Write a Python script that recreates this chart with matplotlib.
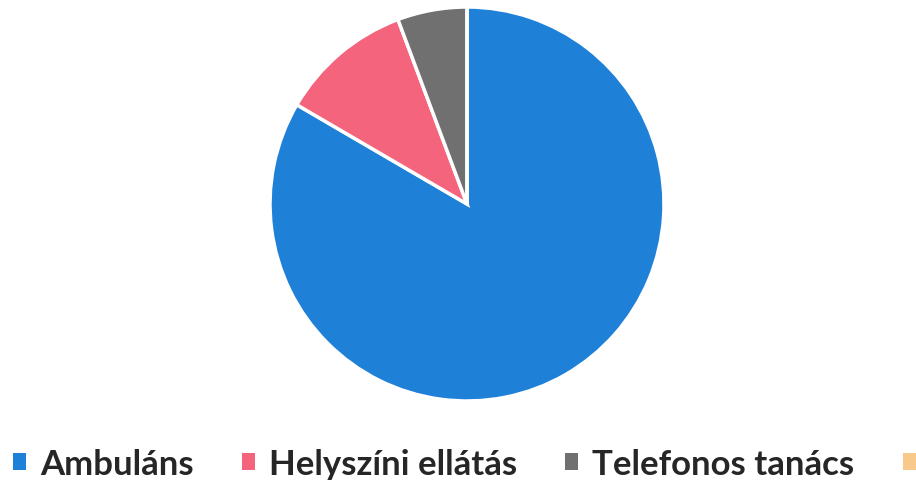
import matplotlib.pyplot as plt
from matplotlib.patches import Patch

labels = ['Ambuláns', 'Helyszíni ellátás', 'Telefonos tanács', '']
values = [83.4, 10.9, 5.7, 0.0]
colors = ['#1f80d8', '#f4647c', '#707070', '#f8c98a']

plt.rcParams['font.family'] = ['Lato', 'DejaVu Sans']

fig = plt.figure(figsize=(9.16, 4.81), dpi=100)
ax = fig.add_axes([270 / 916, 79 / 481, 394 / 916, 394 / 481])
wedges, _ = ax.pie(values, colors=colors, startangle=90, counterclock=False,
                   wedgeprops=dict(edgecolor='white', linewidth=2.5))
ax.set_xlim(-1, 1)
ax.set_ylim(-1, 1)
ax.set_aspect('equal')

# legend squares without the white wedge edge
handles = [Patch(facecolor=c, edgecolor='none') for c in colors]
fig.legend(handles, labels, loc='center left', bbox_to_anchor=(13 / 916, 16 / 481),
           ncol=4, frameon=False, borderpad=0, borderaxespad=0,
           handlelength=0.37, handleheight=0.37,
           handletextpad=0.4, columnspacing=1.4,
           prop=dict(size=25, weight='bold'), labelcolor='#262626')

fig.savefig('out.png', dpi=100)
